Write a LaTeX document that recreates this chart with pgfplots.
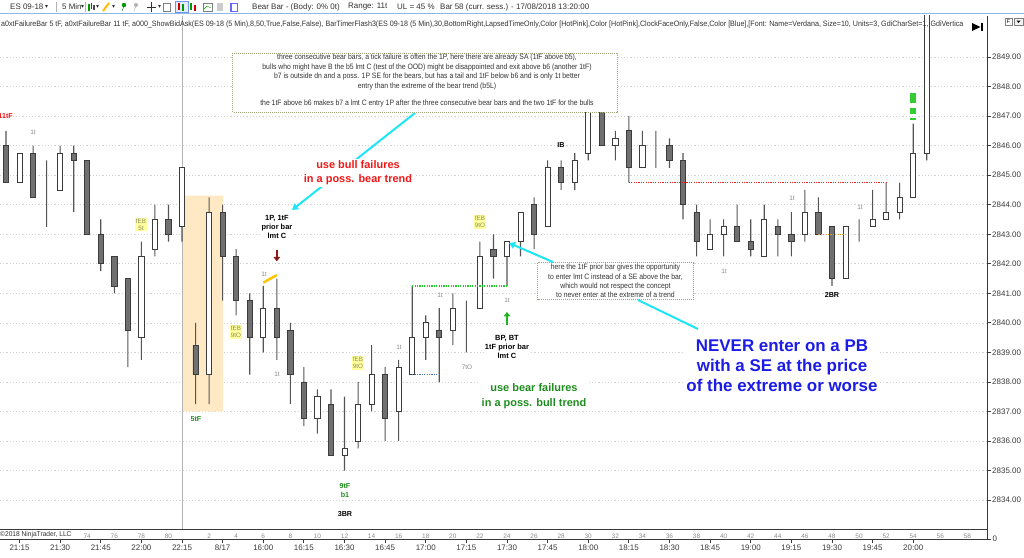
\documentclass[border=0pt]{standalone}
\usepackage{fontspec}
\setmainfont{Liberation Sans}
\newfontfamily\dv{DejaVu Sans}
\usepackage{graphicx}
\usepackage{pgfplots}
\pgfplotsset{compat=1.18}
\usepackage{pgfplotstable}
\usetikzlibrary{arrows.meta}

\definecolor{bearfill}{HTML}{707070}
\definecolor{border}{HTML}{3C3C3C}
\definecolor{wickc}{HTML}{555555}
\definecolor{gridc}{HTML}{D2D2D2}
\definecolor{axc}{HTML}{3A3A3A}
\definecolor{labc}{HTML}{3A3A3A}
\definecolor{bnumc}{HTML}{8C8C8C}
\definecolor{sessc}{HTML}{B4B4B4}
\definecolor{shadec}{HTML}{FFE8C4}
\definecolor{cyanc}{HTML}{1EE6F5}
\definecolor{redt}{HTML}{F01818}
\definecolor{greent}{HTML}{1E8C1E}
\definecolor{bluet}{HTML}{1C1CE6}
\definecolor{febbg}{HTML}{FFFF9E}
\definecolor{febt}{HTML}{8C8C5A}
\definecolor{smallt}{HTML}{8A8A8A}
\definecolor{boxc}{HTML}{9AA57A}
\definecolor{greenln}{HTML}{22CC22}
\definecolor{blueln}{HTML}{3F6FC0}
\definecolor{redln}{HTML}{E02424}
\definecolor{orangeln}{HTML}{D9A020}
\definecolor{yellowln}{HTML}{FFC400}
\definecolor{greenmk}{HTML}{33CC33}
\definecolor{arrowred}{HTML}{8B1A1A}
\definecolor{arrowgreen}{HTML}{1DB51D}
\definecolor{hdrline}{HTML}{8CB8E8}
\definecolor{hdrt}{HTML}{333333}

% i = bar index (0 = bar 68 of previous session), o h l c
\pgfplotstableread{
i o h l c
0 2846 2846.5 2844.75 2844.75
1 2844.75 2845.75 2844.75 2845.75
2 2845.75 2846 2844.25 2844.25
3 2844.5 2845.5 2843.25 2844.5
4 2844.5 2846 2844.5 2845.75
5 2845.75 2846 2843.75 2845.5
6 2845.5 2845.5 2843 2843
7 2843 2843.5 2841.75 2842
8 2842.25 2842.25 2841 2841.25
9 2841.5 2841.5 2838.5 2839.75
10 2839.5 2842.75 2838.75 2842.25
11 2842.5 2844 2842.25 2843.5
12 2843.5 2844 2842.75 2843
13 2843.25 2845.25 2842.75 2845.25
14 2839.25 2840 2837.25 2838.25
15 2838.25 2844.25 2837.25 2843.75
16 2843.75 2844 2840.75 2842.25
17 2842.25 2842.5 2840.25 2840.75
18 2840.75 2841 2838.25 2839.5
19 2839.5 2841.25 2839 2840.5
20 2840.5 2841.5 2838.75 2839.5
21 2839.75 2840 2837.25 2838.25
22 2838 2838.5 2836.5 2836.75
23 2836.75 2837.75 2836.25 2837.5
24 2837.25 2837.75 2835.5 2835.5
25 2835.5 2837.5 2835 2835.75
26 2836 2838 2835.75 2837.25
27 2837.25 2839.25 2837 2838.25
28 2838.25 2838.5 2836 2836.75
29 2837 2838.75 2836 2838.5
30 2838.25 2841.25 2838.25 2839.5
31 2839.5 2840.25 2838.75 2840
32 2839.75 2840.5 2838 2839.5
33 2839.75 2841 2839.25 2840.5
34 2840.5 2840.75 2839 2840.5
35 2840.5 2842.75 2840.5 2842.25
36 2842.5 2843 2841.5 2842.25
37 2842.25 2842.75 2841.25 2842.75
38 2842.75 2843.75 2842.25 2843.75
39 2844 2844.25 2842.5 2843
40 2843.25 2845.5 2843.25 2845.25
41 2845.25 2845.5 2844.5 2844.75
42 2844.75 2845.75 2844.5 2845.5
43 2845.75 2848.5 2845.5 2848.25
44 2848.25 2848.5 2846 2846
45 2846 2846.5 2845.5 2846.25
46 2846.5 2847 2844.75 2845.25
47 2845.25 2846.5 2845.25 2846
48 2845.75 2846.5 2845.25 2845.75
49 2846 2846.25 2845.25 2845.5
50 2845.5 2845.75 2843.5 2844
51 2843.75 2844 2842.25 2842.75
52 2842.5 2843.5 2842.5 2843
53 2843 2843.5 2842.25 2843.25
54 2843.25 2844 2842.75 2842.75
55 2842.75 2843.5 2842.25 2842.5
56 2842.25 2844 2842.25 2843.5
57 2843.25 2843.5 2842.25 2843
58 2843 2843.75 2842.25 2842.75
59 2843 2844.5 2842.75 2843.75
60 2843.75 2844.25 2843 2843
61 2843.25 2843.25 2841.25 2841.5
62 2841.5 2843.25 2841.5 2843.25
63 2843.25 2843.5 2842.75 2843.25
64 2843.25 2844.5 2843.25 2843.5
65 2843.5 2844.75 2843.5 2843.75
66 2843.75 2844.75 2843.5 2844.25
67 2844.25 2846.75 2844.25 2845.75
68 2845.75 2851 2845.5 2851
}\candles

\pgfplotsset{
  mybase/.style={at={(0bp,-529bp)}, anchor=south west, scale only axis,
    width=987bp, height=513bp, xmin=-0.443, xmax=72.45, ymin=2833.02, ymax=2850.39},
  myhidden/.style={mybase, hide axis, clip=true},
}

\begin{document}
\begin{tikzpicture}
\fill[white] (0,0) rectangle (1024bp,-558bp);
\useasboundingbox (0,0) rectangle (1024bp,-558bp);

% ---------------- main axis: grid, y labels, bar numbers, shade, session line
\begin{axis}[mybase,
  axis x line*=bottom, axis y line*=right,
  axis line style={draw=axc, line width=0.8bp, -},
  ytick={2834,2835,2836,2837,2838,2839,2840,2841,2842,2843,2844,2845,2846,2847,2848,2849},
  yticklabels={2834.00,2835.00,2836.00,2837.00,2838.00,2839.00,2840.00,2841.00,2842.00,2843.00,2844.00,2845.00,2846.00,2847.00,2848.00,2849.00},
  tick align=outside, major tick length=4bp,
  ytick style={draw=axc, line width=0.8bp},
  yticklabel style={font=\fontsize{8}{9}\selectfont, text=labc, inner sep=1bp},
  ymajorgrids, major grid style={draw=gridc, line width=0.7bp, dash pattern=on 1.2bp off 2bp},
  xtick={6,8,10,12,15,17,19,21,23,25,27,29,31,33,35,37,39,41,43,45,47,49,51,53,55,57,59,61,63,65,67,69,71},
  xticklabels={74,76,78,80,2,4,6,8,10,12,14,16,18,20,22,24,26,28,30,32,34,36,38,40,42,44,46,48,50,52,54,56,58},
  xtick style={draw=none},
  xticklabel style={font=\fontsize{6.5}{7}\selectfont, text=bnumc, inner sep=1bp},
]
\addplot[fill=shadec, draw=none] coordinates {(13.07,2837) (16.03,2837) (16.03,2844.31) (13.07,2844.31) (13.07,2837)};
\addplot[draw=sessc, line width=1bp] coordinates {(13,2833.02) (13,2850.39)};
\end{axis}

% ---------------- time axis
\begin{axis}[at={(0bp,-539bp)}, anchor=south west, scale only axis,
  width=987bp, height=10bp, xmin=-0.443, xmax=72.45, ymin=0, ymax=1,
  axis x line*=bottom, axis y line*=right,
  axis line style={draw=axc, line width=0.8bp, -},
  tick align=outside, major tick length=4bp,
  tick style={draw=axc, line width=0.8bp},
  ytick={0}, yticklabels={0},
  xtick={1,4,7,10,13,16,19,22,25,28,31,34,37,40,43,46,49,52,55,58,61,64,67},
  xticklabels={21:15,21:30,21:45,22:00,22:15,8/17,16:00,16:15,16:30,16:45,17:00,17:15,17:30,17:45,18:00,18:15,18:30,18:45,19:00,19:15,19:30,19:45,20:00},
  ticklabel style={font=\fontsize{8}{9}\selectfont, text=labc, inner sep=1.5bp},
]
\addplot[draw=none] coordinates {(0,0.5)};
\end{axis}

% ---------------- wicks
\begin{axis}[myhidden, ybar stacked, bar width=1.1bp, bar shift=0pt]
\addplot[draw=none, fill=none] table[x=i, y=l] \candles;
\addplot[draw=none, fill=wickc] table[x=i, y expr={\thisrow{h}-\thisrow{l}}] \candles;
\end{axis}

% ---------------- bodies
\begin{axis}[myhidden, ybar stacked, bar width=5.2bp, bar shift=0pt]
\addplot[draw=none, fill=none] table[x=i, y expr={min(\thisrow{o},\thisrow{c})}] \candles;
\addplot[fill=white, draw=border, line width=0.8bp] table[x=i, y expr={max(\thisrow{c}-\thisrow{o},0)}] \candles;
\addplot[fill=bearfill, draw=border, line width=0.8bp] table[x=i, y expr={max(\thisrow{o}-\thisrow{c},0)}] \candles;
\end{axis}

% ---------------- overlays drawn through the axis
\begin{axis}[myhidden]
\addplot[draw=greenln, line width=1.2bp, dash pattern=on 1.2bp off 1.2bp] coordinates {(30,2841.25) (37,2841.25)};
\addplot[draw=blueln, line width=1.2bp, dash pattern=on 1.2bp off 1.2bp] coordinates {(30,2838.25) (32,2838.25)};
\addplot[draw=redln, line width=1.2bp, dash pattern=on 1.2bp off 1.2bp] coordinates {(46,2844.75) (65,2844.75)};
\addplot[draw=orangeln, line width=1.2bp, dash pattern=on 1.2bp off 1.2bp] coordinates {(60,2843) (62,2843)};
\addplot[draw=yellowln, line width=2.4bp] coordinates {(19,2841.36) (20,2841.62)};
\addplot[draw=greenmk, line width=5.5bp] coordinates {(67,2847.45) (67,2847.77)};
\addplot[draw=greenmk, line width=5.5bp] coordinates {(67,2847.07) (67,2847.28)};
\addplot[draw=greenmk, line width=5.5bp] coordinates {(67,2846.86) (67,2846.92)};
\addplot[draw=arrowred, line width=2.2bp, -{Triangle[width=6.5bp,length=4.5bp]}] coordinates {(20,2842.47) (20,2842.08)};
\addplot[draw=arrowgreen, line width=2.2bp, -{Triangle[width=6.5bp,length=4.5bp]}] coordinates {(37,2839.92) (37,2840.37)};
\end{axis}

% ---------------- chrome and annotations (pixel coordinates)
\begin{scope}[x=1bp, y=-1bp]
% header
\fill[white] (0,0) rectangle (1024,13);
\draw[hdrline, line width=1bp] (0,13.5) -- (1024,13.5);
\begin{scope}[every node/.style={font=\fontsize{8}{9}\selectfont, text=hdrt, inner sep=0pt, anchor=west}]
\node at (10,7) {ES 09-18};
\node at (45,7) {\dv\fontsize{6}{7}\selectfont ▾};
\node at (62,7) {5 Min};
\node at (81,7) {\dv\fontsize{6}{7}\selectfont ▾};
\node at (96,7) {\dv\fontsize{6}{7}\selectfont ▾};
\node at (112,7) {\dv\fontsize{6}{7}\selectfont ▾};
\node at (158,7) {\dv\fontsize{6}{7}\selectfont ▾};
\node at (252,7) {Bear Bar - (Body: 0\%  0t)};
\node at (348,7) {Range: 11t};
\node at (397,7) {UL = 45 \%};
\node at (440,7) {Bar 58 (curr. sess.) - 17/08/2018 13:20:00};
\end{scope}
\draw[gray!60] (56,2) -- (56,12);
\draw[gray!60] (85,2) -- (85,12);
\fill[green!60!black] (88,4) rectangle (89.6,11);
\fill[red!80!black] (90.6,3) rectangle (92.2,9);
\fill[black!70] (93.2,5) rectangle (94.8,10);
\draw[yellowln!90!orange, line width=2bp] (103,11) -- (109,3);
\fill[green!60!black] (124,5) circle (2.2);
\draw[green!40!black] (122,11) -- (124,6);
\fill[gray!60] (136,5) circle (2);
\draw[gray!60] (134,11) -- (136,6);
\draw[hdrt] (147,7) -- (156,7) (151.5,2.5) -- (151.5,11.5);
\draw[gray] (163,3) rectangle (170,11);
\draw[hdrline!80!blue, fill=hdrline!25] (175,1) rectangle (188,12.5);
\fill[red!80!black] (178,3) rectangle (180,10);
\fill[green!60!black] (182,4) rectangle (184,11);
\fill[green!60!black] (190,3) rectangle (192,10);
\fill[red!80!black] (194,5) rectangle (196,11);
\draw[gray] (203,3) rectangle (212,11);
\draw[green!60!black] (204,9) -- (207,6) -- (211,8);
\fill[gray!40] (217,3) rectangle (223,11);
\draw[blue!60, fill=white] (230,3) rectangle (237,11);
\fill[blue!60] (230,3) rectangle (232,11);
% indicator line
\begin{scope}
\clip (0,16) rectangle (984,32);
\node[anchor=west, inner sep=0pt, font=\fontsize{7.8}{9}\selectfont, text=hdrt] at (1,24) {\scalebox{0.917}[1]{a0xtFailureBar 5 tF,  a0xtFailureBar 11 tF,  a000\_ShowBidAsk(ES 09-18 (5 Min),8,50,True,False,False),  BarTimerFlash3(ES 09-18 (5 Min),30,BottomRight,LapsedTimeOnly,Color [HotPink],Color [HotPink],ClockFaceOnly,False,Color [Blue],[Font: Name=Verdana, Size=10, Units=3, GdiCharSet=1, GdiVertica}};
\end{scope}
\fill[black] (972,23) -- (980.5,27) -- (972,31) -- cycle;
\fill[black] (980.5,23) rectangle (982.5,31);
\draw[gray, fill=white] (1005,18) rectangle (1012,25);
\node[font=\fontsize{5.5}{6}\selectfont, inner sep=0pt] at (1008.5,21.6) {F};
\draw[gray, fill=gray!10] (1014,18) rectangle (1023,25);
\fill[black] (1016.5,20.5) -- (1020.5,20.5) -- (1018.5,23) -- cycle;
% copyright
\node[anchor=west, inner sep=0pt, font=\fontsize{7}{8}\selectfont, text=hdrt, fill=white] at (0,535) {\scalebox{0.95}[1]{\textcopyright 2018 NinjaTrader, LLC}};

% cyan arrows
\draw[cyanc, line width=2bp, -{Triangle[width=7bp,length=6bp]}] (415,113) -- (292,210);
\draw[cyanc, line width=2bp, -{Triangle[width=7bp,length=6bp]}] (553,262) -- (509,243);
\draw[cyanc, line width=2bp] (638,300) -- (698,329);

% text box 1
\draw[boxc, fill=white, line width=0.8bp, dash pattern=on 1bp off 1bp] (232.5,53) rectangle (617.5,112);
\begin{scope}[every node/.style={font=\fontsize{7.8}{8}\selectfont, text=hdrt, inner sep=0pt}]
\node at (427,57.5) {\scalebox{0.88}[1]{three consecutive bear bars, a tick failure is often the 1P, here there are already SA (1tF above b5),}};
\node at (427,67.3) {\scalebox{0.88}[1]{bulls who might have B the b5 lmt C (test of the OOD) might be disappointed and exit above b6 (another 1tF)}};
\node at (427,76.8) {\scalebox{0.88}[1]{b7 is outside dn and a poss. 1P SE for the bears, but has a tail and 1tF below b6 and is only 1t better}};
\node at (427,86.3) {\scalebox{0.88}[1]{entry than the extreme of the bear trend (b5L)}};
\node at (427,103.5) {\scalebox{0.88}[1]{the 1tF above b6 makes b7 a lmt C entry 1P after the three consecutive bear bars and the two 1tF for the bulls}};
\end{scope}
% text box 2
\draw[boxc, fill=white, line width=0.8bp, dash pattern=on 1bp off 1bp] (537.7,262.7) rectangle (693.3,299.3);
\begin{scope}[every node/.style={font=\fontsize{7.8}{8}\selectfont, text=hdrt, inner sep=0pt}]
\node at (615.5,267.8) {\scalebox{0.88}[1]{here the 1tF prior bar gives the opportunity}};
\node at (615.5,277.0) {\scalebox{0.88}[1]{to enter lmt C instead of a SE above the bar,}};
\node at (615.5,286.2) {\scalebox{0.88}[1]{which would not respect the concept}};
\node at (615.5,295.0) {\scalebox{0.88}[1]{to never enter at the extreme of a trend}};
\end{scope}

% big labels
\node[fill=white, inner sep=2bp, align=center, text=redt, font=\fontsize{11}{14}\bfseries] at (358,173) {use bull failures\\in a poss. bear trend};
\node[fill=white, inner sep=2bp, align=center, text=greent, font=\fontsize{11}{15}\bfseries] at (534,396) {use bear failures\\in a poss. bull trend};
\node[fill=white, inner sep=2bp, align=center, text=bluet, font=\fontsize{17}{20}\bfseries] at (782,366) {NEVER enter on a PB\\with a SE at the price\\of the extreme or worse};
\node[fill=white, inner sep=1bp, align=center, text=black, font=\fontsize{7.5}{9}\bfseries] at (277,227) {1P, 1tF\\prior bar\\lmt C};
\node[fill=white, inner sep=1bp, align=center, text=black, font=\fontsize{7.5}{9.3}\bfseries] at (507,347) {BP, BT\\1tF prior bar\\lmt C};

% small labels
\begin{scope}[every node/.style={font=\fontsize{6.5}{7}\selectfont, text=smallt, inner sep=0pt}]
\node at (33,132) {1t};
\node at (264,274) {1t};
\node at (277,374) {1t};
\node at (399,347) {1t};
\node at (440,295) {1t};
\node at (507,300) {1t};
\node at (724,271) {1t};
\node at (792,198) {1t};
\node at (860,207) {1t};
\node at (467,367) {7tO};
\end{scope}
\begin{scope}[every node/.style={font=\fontsize{6.3}{7}\selectfont, text=febt, fill=febbg, inner sep=0.8bp, align=center, minimum width=12bp}]
\node at (141,224.5) {fEB\\5t};
\node at (236,332) {fEB\\9tO};
\node at (358,363) {fEB\\9tO};
\node at (480,222) {fEB\\9tO};
\end{scope}
\begin{scope}[every node/.style={font=\fontsize{7.2}{8}\bfseries, inner sep=0pt}]
\node[text=redt, anchor=east] at (13,116) {11tF};
\node[text=greent] at (196,419) {5tF};
\node[text=greent] at (345,486) {9tF};
\node[text=greent] at (345,495) {b1};
\node[text=black] at (345,514) {3BR};
\node[text=black] at (832,295) {2BR};
\node[text=black] at (561,145) {IB};
\end{scope}
\end{scope}
\end{tikzpicture}
\end{document}
